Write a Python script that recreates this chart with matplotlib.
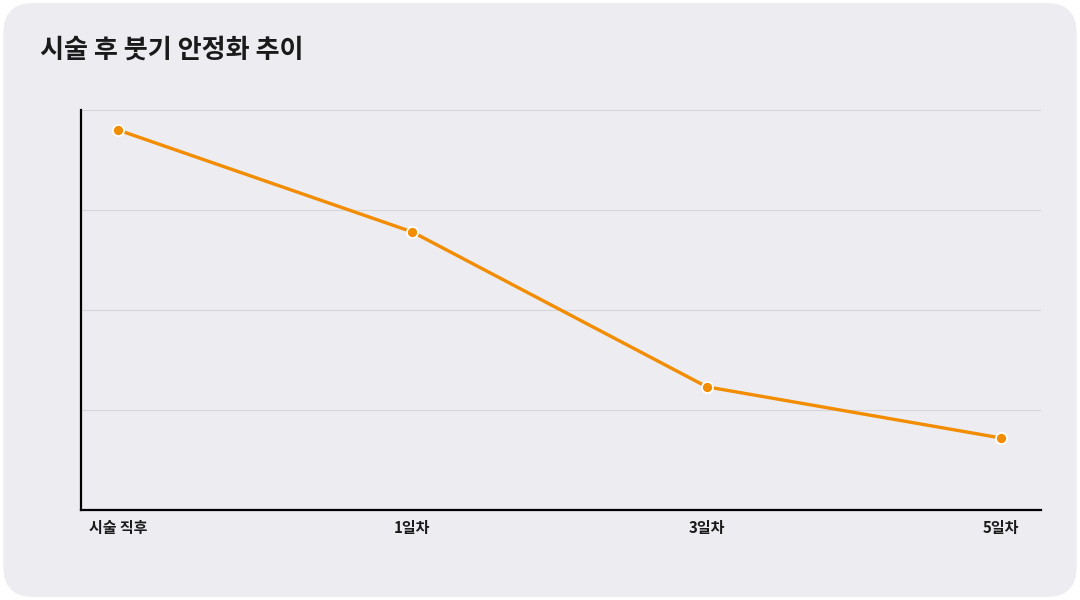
import matplotlib
matplotlib.use("Agg")
import matplotlib.pyplot as plt
from matplotlib.patches import FancyBboxPatch

plt.rcParams['font.family'] = ['Noto Sans CJK KR', 'DejaVu Sans']

# data
stages = ["시술 직후", "1일차", "3일차", "5일차"]
swelling = [95, 69.5, 30.8, 18]
title = "시술 후 붓기 안정화 추이"

fig = plt.figure(figsize=(10.8, 6), dpi=100)
fig.patch.set_facecolor("white")

# rounded card background
card = FancyBboxPatch((0.003, 0.005), 0.994, 0.99,
                      boxstyle="round,pad=0,rounding_size=0.028",
                      transform=fig.transFigure, facecolor="#edecf1",
                      edgecolor="none", mutation_aspect=1.8, zorder=-10)
fig.patches.append(card)

ax = fig.add_axes([0.075, 0.15, 0.889, 0.6667])
ax.set_zorder(1)
ax.set_facecolor("none")

x = list(range(len(stages)))
ax.plot(x, swelling, color="#f28c00", lw=2.4, zorder=3,
        marker="o", markersize=8, markerfacecolor="#f28c00",
        markeredgecolor="white", markeredgewidth=1.3)

ax.set_xlim(-0.126, 3.136)
ax.set_ylim(0, 100)
ax.set_yticks([25, 50, 75, 100])
ax.set_yticklabels([])
ax.tick_params(axis="y", length=0)
ax.grid(axis="y", color="#d6d5da", lw=0.8)
ax.set_axisbelow(True)

ax.set_xticks(x)
ax.set_xticklabels(stages, fontsize=10.8, fontweight="bold", color="#1a1a1a")
ax.tick_params(axis="x", length=0, pad=7)

for s in ["top", "right"]:
    ax.spines[s].set_visible(False)
for s in ["left", "bottom"]:
    ax.spines[s].set_color("black")
    ax.spines[s].set_linewidth(1.6)

fig.text(0.037, 0.917, title, fontsize=18.8, fontweight="bold",
         color="#1a1a1a", va="center", ha="left", zorder=2)

fig.savefig("out.png", dpi=100, facecolor=fig.get_facecolor())
